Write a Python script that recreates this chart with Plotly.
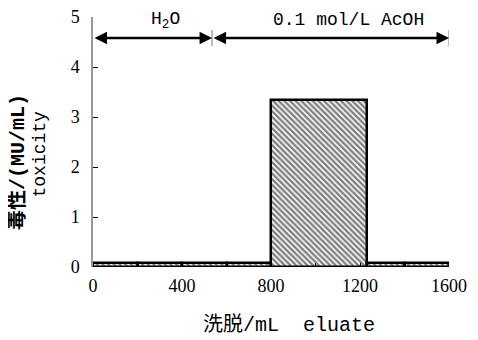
import plotly.graph_objects as go

# ---- data ----
frac_start = [0, 200, 400, 600, 800, 1230, 1400]
frac_width = [200, 200, 200, 200, 430, 170, 200]
toxicity = [0.08, 0.08, 0.08, 0.08, 3.35, 0.08, 0.08]
x_tick_vals = [0, 200, 400, 600, 800, 1000, 1200, 1400, 1600]
x_tick_text = ["0", "", "400", "", "800", "", "1200", "", "1600"]
y_tick_vals = [0, 1, 2, 3, 4, 5]
eluent_bounds = [0, 535, 1600]
eluent_names = ["H<sub>2</sub>O", "0.1 mol/L AcOH"]
arrow_y = 4.58

mono = "Liberation Mono, Noto Sans CJK SC, monospace"
serif = "Liberation Serif, Times New Roman, serif"

fig = go.Figure()
fig.add_trace(go.Bar(
    x=[s + w / 2 for s, w in zip(frac_start, frac_width)],
    y=toxicity,
    width=frac_width,
    marker=dict(
        color="white",
        line=dict(color="black", width=2.5),
        pattern=dict(shape="\\", fgcolor="black", bgcolor="white", size=4, solidity=0.6),
    ),
    cliponaxis=False,
    showlegend=False,
))

label_xshift = [13, 18]
annotations = []
for i in range(len(eluent_names)):
    a, b = eluent_bounds[i], eluent_bounds[i + 1]
    annotations.append(dict(
        x=b, y=arrow_y, ax=a, ay=arrow_y, xref="x", yref="y", axref="x", ayref="y",
        showarrow=True, arrowhead=2, arrowside="end+start", arrowwidth=2.5,
        arrowsize=1, arrowcolor="black", text="",
    ))
    annotations.append(dict(
        x=(a + b) / 2, y=arrow_y, xref="x", yref="y", yshift=18, xshift=label_xshift[i],
        xanchor="center", yanchor="middle",
        text=eluent_names[i], showarrow=False,
        font=dict(family=mono, size=18, color="black"),
    ))

# y title (two lines)
annotations.append(dict(
    x=0, y=0.42, xref="paper", yref="paper", xshift=-75, textangle=-90,
    xanchor="center", yanchor="middle",
    text="<b>毒性/(MU/mL)</b>", showarrow=False,
    font=dict(family=mono, size=20, color="black"),
))
annotations.append(dict(
    x=0, y=0.45, xref="paper", yref="paper", xshift=-54, textangle=-90,
    xanchor="center", yanchor="middle",
    text="toxicity", showarrow=False,
    font=dict(family=mono, size=18, color="black"),
))
# x title
annotations.append(dict(
    x=0.55, y=0, xref="paper", yref="paper", yshift=-58,
    xanchor="center", yanchor="middle",
    text="洗脱/mL  eluate", showarrow=False,
    font=dict(family=mono, size=20, color="black"),
))

shapes = []
for xb in eluent_bounds[1:]:
    shapes.append(dict(type="line", xref="x", yref="y", x0=xb, x1=xb,
                       y0=arrow_y - 0.16, y1=arrow_y + 0.16,
                       line=dict(color="#777", width=1)))

# page body adds an 8px offset, so the figure is 8px smaller on each side
fig.update_layout(
    width=470, height=332,
    margin=dict(l=85, r=29, t=9, b=73, autoexpand=False),
    paper_bgcolor="white", plot_bgcolor="white",
    bargap=0,
    annotations=annotations,
    shapes=shapes,
    xaxis=dict(
        range=[0, 1600], tickvals=x_tick_vals, ticktext=x_tick_text,
        ticks="inside", ticklen=4, tickcolor="black", tickwidth=1,
        showline=False, showgrid=False, zeroline=False, automargin=False,
        tickfont=dict(family=serif, size=18, color="black"),
        ticklabelstandoff=6, ticklabeloverflow="allow",
    ),
    yaxis=dict(
        range=[0, 5], tickvals=y_tick_vals,
        ticks="inside", ticklen=5, tickcolor="black", tickwidth=1,
        showline=True, linecolor="#999", linewidth=1.5,
        showgrid=False, zeroline=False, automargin=False,
        tickfont=dict(family=serif, size=18, color="black"),
        ticklabelstandoff=8, ticklabeloverflow="allow",
    ),
)

fig.write_html("out.html")
